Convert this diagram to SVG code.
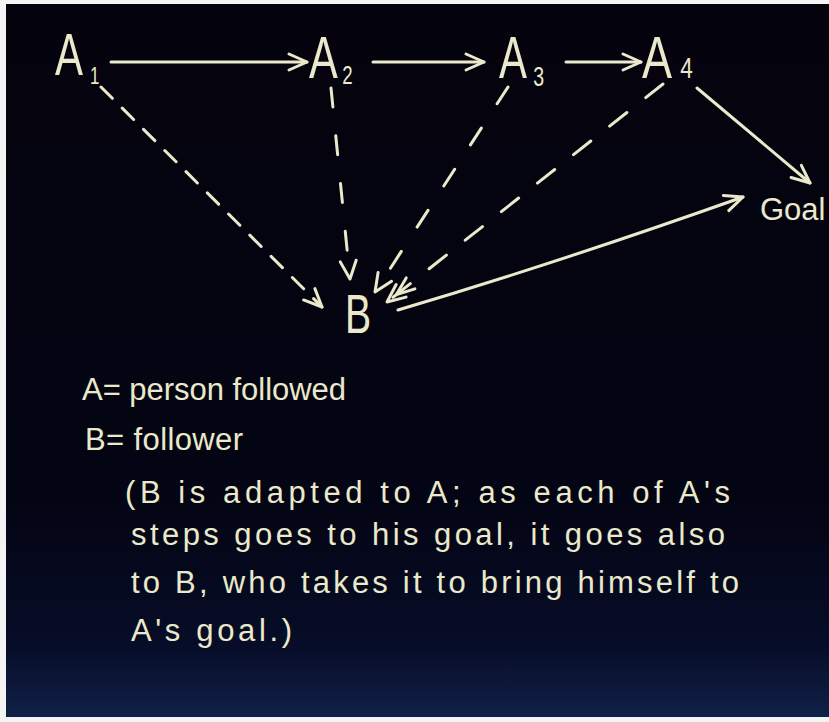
<svg xmlns="http://www.w3.org/2000/svg" width="829" height="722" viewBox="0 0 829 722">
<defs>
<linearGradient id="bg" x1="0" y1="0" x2="0" y2="1">
<stop offset="0" stop-color="#04030d"/>
<stop offset="0.7" stop-color="#040514"/>
<stop offset="0.9" stop-color="#070d28"/>
<stop offset="1" stop-color="#102048"/>
</linearGradient>
<marker id="arr" markerUnits="userSpaceOnUse" viewBox="0 0 24 24" refX="21" refY="12" markerWidth="24" markerHeight="24" orient="auto">
<path d="M3,4 L21,12 L3,20" fill="none" stroke="#ebe9cb" stroke-width="3" stroke-linecap="round" stroke-linejoin="round" stroke-dasharray="none"/>
</marker>
<marker id="arr2" markerUnits="userSpaceOnUse" viewBox="-12 0 36 24" refX="21" refY="12" markerWidth="36" markerHeight="24" orient="auto">
<path d="M3,4 L21,12 L3,20 M-9,5 L9,12 L-9,19" fill="none" stroke="#ebe9cb" stroke-width="3" stroke-linecap="round" stroke-linejoin="round" stroke-dasharray="none"/>
</marker>
<style>
.lbl{font-family:"Liberation Sans","DejaVu Sans",sans-serif;fill:#ebe9cb}
.note{font-family:"Liberation Sans","DejaVu Sans",sans-serif;fill:#ebe9cb;font-size:31px}
.solid{fill:none;stroke:#ebe9cb;stroke-width:3;stroke-linecap:round}
.dash{fill:none;stroke:#ebe9cb;stroke-width:3;stroke-linecap:round}
</style>
</defs>
<rect x="0" y="0" width="829" height="722" fill="#f4f4f4"/>
<rect x="6" y="4" width="823" height="713" fill="url(#bg)"/>

<g id="connectors">
<path class="solid" d="M111,62 L307,62" marker-end="url(#arr)"/>
<path class="solid" d="M373,62 L484,62" marker-end="url(#arr)"/>
<path class="solid" d="M566,62 L641,62" marker-end="url(#arr)"/>
<path class="solid" d="M697,88 L810,183" marker-end="url(#arr)"/>
<path class="solid" d="M398,310 Q560,262 743,197" marker-end="url(#arr)"/>
<path class="dash" d="M101,87 L322,307" stroke-dasharray="16 14" marker-end="url(#arr)"/>
<path class="dash" d="M331,88 L350,279" stroke-dasharray="19 29" marker-end="url(#arr)"/>
<path class="dash" d="M508,87 L375,292" stroke-dasharray="20 29" marker-end="url(#arr)"/>
<path class="dash" d="M663,84 L387,302" stroke-dasharray="22 24" marker-end="url(#arr2)"/>
</g>

<g id="A1"><text class="lbl" transform="translate(55,75) scale(0.7,1)" font-size="60">A<tspan font-size="24" dx="10" dy="9">1</tspan></text></g>
<g id="A2"><text class="lbl" transform="translate(309,78) scale(0.72,1)" font-size="60">A<tspan font-size="26" dx="6" dy="6">2</tspan></text></g>
<g id="A3"><text class="lbl" transform="translate(499,78) scale(0.7,1)" font-size="60">A<tspan font-size="28" dx="9" dy="8">3</tspan></text></g>
<g id="A4"><text class="lbl" transform="translate(642,78) scale(0.75,1)" font-size="60">A<tspan font-size="30" dx="11">4</tspan></text></g>
<g id="Goal"><text class="lbl" x="760" y="220" font-size="31">Goal</text></g>
<g id="B"><text class="lbl" transform="translate(345,333) scale(0.7,1)" font-size="56">B</text></g>

<g id="notes">
<text class="note" x="82" y="400" textLength="264" lengthAdjust="spacing">A= person followed</text>
<text class="note" x="85" y="450" textLength="158" lengthAdjust="spacing">B= follower</text>
<text class="note" x="125" y="503" textLength="605" lengthAdjust="spacing">(B is adapted to A; as each of A's</text>
<text class="note" x="131" y="545" textLength="594" lengthAdjust="spacing">steps goes to his goal, it goes also</text>
<text class="note" x="131" y="593" textLength="608" lengthAdjust="spacing">to B, who takes it to bring himself to</text>
<text class="note" x="131" y="641" textLength="161" lengthAdjust="spacing">A's goal.)</text>
</g>
</svg>
